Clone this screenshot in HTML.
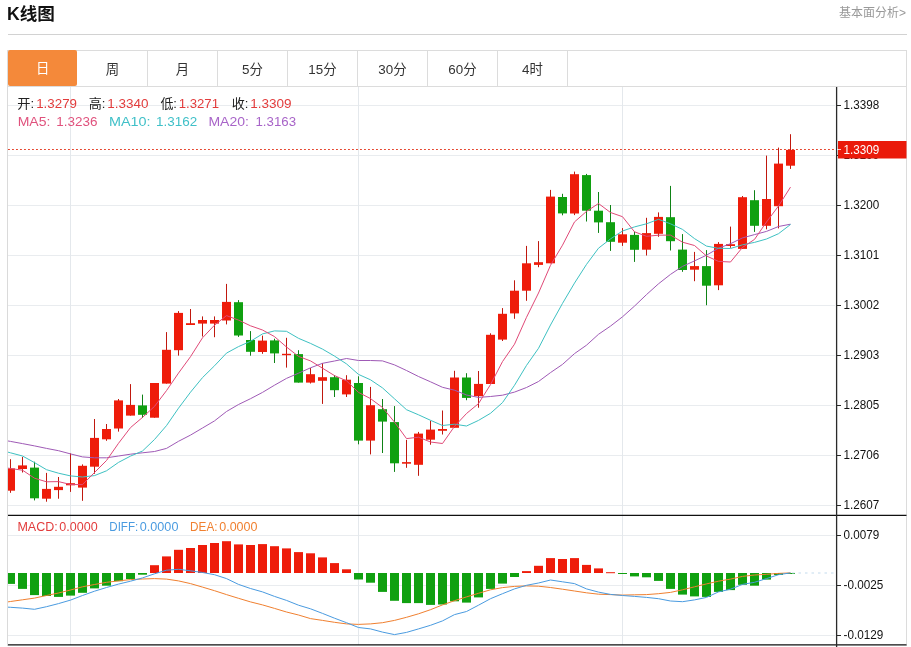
<!DOCTYPE html>
<html lang="zh-CN"><head><meta charset="utf-8"><title>K线图</title>
<style>
html,body{margin:0;padding:0;background:#fff;}
body{width:911px;height:647px;position:relative;overflow:hidden;font-family:"Liberation Sans","Noto Sans CJK SC",sans-serif;color:#333;}
.title{position:absolute;left:7px;top:2.4px;font-size:17.6px;font-weight:bold;color:#111;line-height:24px;white-space:nowrap;}
.more{position:absolute;right:5px;top:5.3px;font-size:12px;color:#999;line-height:17px;white-space:nowrap;}
.hr{position:absolute;left:8px;top:34px;width:899px;height:1px;background:#d2d2d2;}
.tabs{position:absolute;left:7px;top:50px;width:898px;height:35px;border:1px solid #dcdcdc;box-sizing:content-box;}
.tab{position:absolute;top:0;width:69px;height:35px;border-right:1px solid #dcdcdc;text-align:center;line-height:37.4px;font-size:13.4px;color:#333;}
.tab.on{background:#f4893a;color:#fff;border-right-color:#f4893a;border-radius:2px;left:0;top:-0.7px;height:35.2px;width:69.3px;border-right:0}
.ax{font-family:"Liberation Sans",sans-serif;font-size:12.4px;fill:#111;}
.inf{font-family:"Liberation Sans","Noto Sans CJK SC",sans-serif;font-size:13px;}
.r{color:#e23c3c}
</style></head><body>
<div class="title">K线图</div>
<div class="more">基本面分析&gt;</div>
<div class="hr"></div>
<div class="tabs"><div class="tab on" style="left:0px">日</div><div class="tab" style="left:70px">周</div><div class="tab" style="left:140px">月</div><div class="tab" style="left:210px">5分</div><div class="tab" style="left:280px">15分</div><div class="tab" style="left:350px">30分</div><div class="tab" style="left:420px">60分</div><div class="tab" style="left:490px">4时</div></div>
<svg width="911" height="647" viewBox="0 0 911 647" style="position:absolute;left:0;top:0">
<defs><clipPath id="cp"><rect x="8" y="87" width="828" height="559"/></clipPath></defs>
<path d="M8 105.5H835M8 155.5H835M8 205.5H835M8 255.5H835M8 305.5H835M8 355.5H835M8 405.5H835M8 455.5H835M8 505.5H835M8 535.5H835M8 585.5H835M8 635.5H835" stroke="#e9ecef" stroke-width="1" fill="none"/>
<path d="M70.5 87V645M358.5 87V645M622.5 87V645" stroke="#e4e8ec" stroke-width="1" fill="none"/>
<path d="M7.5 87V646" stroke="#dadada" stroke-width="1" fill="none"/>
<path d="M906.5 87V646" stroke="#dcdcdc" stroke-width="1" fill="none"/>
<g clip-path="url(#cp)">
<rect x="10.0" y="459.2" width="1" height="33.6" fill="#c0180e"/>
<rect x="6.0" y="468.4" width="9" height="22.3" fill="#ee1c0a"/>
<rect x="22.0" y="456.9" width="1" height="15.6" fill="#c0180e"/>
<rect x="18.0" y="465.4" width="9" height="3.6" fill="#ee1c0a"/>
<rect x="34.0" y="461.7" width="1" height="38.7" fill="#0f8216"/>
<rect x="30.0" y="467.6" width="9" height="30.7" fill="#10a010"/>
<rect x="46.0" y="472.9" width="1" height="28.8" fill="#c0180e"/>
<rect x="42.0" y="488.9" width="9" height="9.8" fill="#ee1c0a"/>
<rect x="58.0" y="477.0" width="1" height="21.7" fill="#c0180e"/>
<rect x="54.0" y="486.8" width="9" height="3.3" fill="#ee1c0a"/>
<rect x="70.0" y="453.3" width="1" height="38.6" fill="#c0180e"/>
<rect x="66.0" y="483.2" width="9" height="2.1" fill="#ee1c0a"/>
<rect x="82.0" y="464.4" width="1" height="36.4" fill="#c0180e"/>
<rect x="78.0" y="465.8" width="9" height="21.8" fill="#ee1c0a"/>
<rect x="94.0" y="419.0" width="1" height="54.8" fill="#c0180e"/>
<rect x="90.0" y="437.9" width="9" height="28.8" fill="#ee1c0a"/>
<rect x="106.0" y="424.0" width="1" height="16.8" fill="#c0180e"/>
<rect x="102.0" y="429.0" width="9" height="10.3" fill="#ee1c0a"/>
<rect x="118.0" y="399.0" width="1" height="32.6" fill="#c0180e"/>
<rect x="114.0" y="400.4" width="9" height="28.1" fill="#ee1c0a"/>
<rect x="130.0" y="384.1" width="1" height="31.5" fill="#c0180e"/>
<rect x="126.0" y="404.9" width="9" height="10.7" fill="#ee1c0a"/>
<rect x="142.0" y="394.6" width="1" height="23.4" fill="#0f8216"/>
<rect x="138.0" y="405.4" width="9" height="9.4" fill="#10a010"/>
<rect x="154.0" y="383.0" width="1" height="34.7" fill="#c0180e"/>
<rect x="150.0" y="383.0" width="9" height="34.7" fill="#ee1c0a"/>
<rect x="166.0" y="332.1" width="1" height="51.5" fill="#c0180e"/>
<rect x="162.0" y="349.8" width="9" height="33.8" fill="#ee1c0a"/>
<rect x="178.0" y="311.1" width="1" height="44.5" fill="#c0180e"/>
<rect x="174.0" y="312.9" width="9" height="37.3" fill="#ee1c0a"/>
<rect x="190.0" y="309.0" width="1" height="16.0" fill="#c0180e"/>
<rect x="186.0" y="323.2" width="9" height="1.8" fill="#ee1c0a"/>
<rect x="202.0" y="316.4" width="1" height="20.1" fill="#c0180e"/>
<rect x="198.0" y="320.0" width="9" height="3.6" fill="#ee1c0a"/>
<rect x="214.0" y="316.4" width="1" height="20.8" fill="#c0180e"/>
<rect x="210.0" y="320.0" width="9" height="3.6" fill="#ee1c0a"/>
<rect x="226.0" y="283.9" width="1" height="40.5" fill="#c0180e"/>
<rect x="222.0" y="301.9" width="9" height="18.6" fill="#ee1c0a"/>
<rect x="238.0" y="300.1" width="1" height="36.8" fill="#0f8216"/>
<rect x="234.0" y="302.2" width="9" height="33.3" fill="#10a010"/>
<rect x="250.0" y="331.1" width="1" height="24.6" fill="#0f8216"/>
<rect x="246.0" y="340.0" width="9" height="11.8" fill="#10a010"/>
<rect x="262.0" y="335.6" width="1" height="18.2" fill="#c0180e"/>
<rect x="258.0" y="340.6" width="9" height="11.4" fill="#ee1c0a"/>
<rect x="274.0" y="338.7" width="1" height="24.3" fill="#0f8216"/>
<rect x="270.0" y="340.4" width="9" height="13.0" fill="#10a010"/>
<rect x="286.0" y="337.8" width="1" height="29.8" fill="#c0180e"/>
<rect x="282.0" y="353.8" width="9" height="1.4" fill="#ee1c0a"/>
<rect x="298.0" y="350.2" width="1" height="32.4" fill="#0f8216"/>
<rect x="294.0" y="354.1" width="9" height="28.5" fill="#10a010"/>
<rect x="310.0" y="368.0" width="1" height="15.5" fill="#c0180e"/>
<rect x="306.0" y="374.2" width="9" height="8.4" fill="#ee1c0a"/>
<rect x="322.0" y="363.2" width="1" height="40.7" fill="#c0180e"/>
<rect x="318.0" y="377.2" width="9" height="3.6" fill="#ee1c0a"/>
<rect x="334.0" y="375.1" width="1" height="21.9" fill="#0f8216"/>
<rect x="330.0" y="377.2" width="9" height="13.0" fill="#10a010"/>
<rect x="346.0" y="375.2" width="1" height="21.8" fill="#c0180e"/>
<rect x="342.0" y="379.7" width="9" height="14.7" fill="#ee1c0a"/>
<rect x="358.0" y="376.3" width="1" height="68.0" fill="#0f8216"/>
<rect x="354.0" y="383.0" width="9" height="57.6" fill="#10a010"/>
<rect x="370.0" y="386.9" width="1" height="67.5" fill="#c0180e"/>
<rect x="366.0" y="405.2" width="9" height="35.4" fill="#ee1c0a"/>
<rect x="382.0" y="399.0" width="1" height="54.0" fill="#0f8216"/>
<rect x="378.0" y="409.2" width="9" height="12.4" fill="#10a010"/>
<rect x="394.0" y="406.1" width="1" height="65.8" fill="#0f8216"/>
<rect x="390.0" y="422.1" width="9" height="41.2" fill="#10a010"/>
<rect x="406.0" y="439.9" width="1" height="27.9" fill="#c0180e"/>
<rect x="402.0" y="462.1" width="9" height="1.6" fill="#ee1c0a"/>
<rect x="418.0" y="431.9" width="1" height="43.9" fill="#c0180e"/>
<rect x="414.0" y="433.6" width="9" height="31.2" fill="#ee1c0a"/>
<rect x="430.0" y="420.7" width="1" height="24.0" fill="#c0180e"/>
<rect x="426.0" y="429.6" width="9" height="10.1" fill="#ee1c0a"/>
<rect x="442.0" y="410.5" width="1" height="24.0" fill="#c0180e"/>
<rect x="438.0" y="429.0" width="9" height="1.8" fill="#ee1c0a"/>
<rect x="454.0" y="370.8" width="1" height="57.0" fill="#c0180e"/>
<rect x="450.0" y="377.5" width="9" height="50.3" fill="#ee1c0a"/>
<rect x="466.0" y="373.2" width="1" height="27.0" fill="#0f8216"/>
<rect x="462.0" y="377.5" width="9" height="20.4" fill="#10a010"/>
<rect x="478.0" y="371.0" width="1" height="36.7" fill="#c0180e"/>
<rect x="474.0" y="383.9" width="9" height="12.2" fill="#ee1c0a"/>
<rect x="490.0" y="333.3" width="1" height="50.7" fill="#c0180e"/>
<rect x="486.0" y="334.8" width="9" height="49.2" fill="#ee1c0a"/>
<rect x="502.0" y="308.1" width="1" height="32.9" fill="#c0180e"/>
<rect x="498.0" y="313.8" width="9" height="25.8" fill="#ee1c0a"/>
<rect x="514.0" y="280.3" width="1" height="38.5" fill="#c0180e"/>
<rect x="510.0" y="290.7" width="9" height="22.7" fill="#ee1c0a"/>
<rect x="526.0" y="245.9" width="1" height="54.9" fill="#c0180e"/>
<rect x="522.0" y="263.3" width="9" height="27.4" fill="#ee1c0a"/>
<rect x="538.0" y="241.1" width="1" height="26.1" fill="#c0180e"/>
<rect x="534.0" y="262.2" width="9" height="2.7" fill="#ee1c0a"/>
<rect x="550.0" y="189.9" width="1" height="73.4" fill="#c0180e"/>
<rect x="546.0" y="196.6" width="9" height="66.7" fill="#ee1c0a"/>
<rect x="562.0" y="193.8" width="1" height="21.5" fill="#0f8216"/>
<rect x="558.0" y="197.0" width="9" height="16.4" fill="#10a010"/>
<rect x="574.0" y="171.6" width="1" height="43.5" fill="#c0180e"/>
<rect x="570.0" y="174.2" width="9" height="39.3" fill="#ee1c0a"/>
<rect x="586.0" y="173.9" width="1" height="47.6" fill="#0f8216"/>
<rect x="582.0" y="175.1" width="9" height="35.6" fill="#10a010"/>
<rect x="598.0" y="192.0" width="1" height="40.9" fill="#0f8216"/>
<rect x="594.0" y="210.7" width="9" height="11.7" fill="#10a010"/>
<rect x="610.0" y="205.0" width="1" height="45.9" fill="#0f8216"/>
<rect x="606.0" y="222.2" width="9" height="19.6" fill="#10a010"/>
<rect x="622.0" y="228.1" width="1" height="17.8" fill="#c0180e"/>
<rect x="618.0" y="234.3" width="9" height="8.4" fill="#ee1c0a"/>
<rect x="634.0" y="231.7" width="1" height="30.2" fill="#0f8216"/>
<rect x="630.0" y="234.9" width="9" height="14.9" fill="#10a010"/>
<rect x="646.0" y="217.8" width="1" height="37.7" fill="#c0180e"/>
<rect x="642.0" y="233.1" width="9" height="16.6" fill="#ee1c0a"/>
<rect x="658.0" y="212.4" width="1" height="24.4" fill="#c0180e"/>
<rect x="654.0" y="216.9" width="9" height="16.9" fill="#ee1c0a"/>
<rect x="670.0" y="185.9" width="1" height="64.6" fill="#0f8216"/>
<rect x="666.0" y="217.2" width="9" height="24.0" fill="#10a010"/>
<rect x="682.0" y="234.1" width="1" height="37.7" fill="#0f8216"/>
<rect x="678.0" y="249.6" width="9" height="20.4" fill="#10a010"/>
<rect x="694.0" y="251.9" width="1" height="29.3" fill="#c0180e"/>
<rect x="690.0" y="266.1" width="9" height="3.6" fill="#ee1c0a"/>
<rect x="706.0" y="250.1" width="1" height="55.1" fill="#0f8216"/>
<rect x="702.0" y="266.1" width="9" height="19.6" fill="#10a010"/>
<rect x="718.0" y="242.1" width="1" height="48.0" fill="#c0180e"/>
<rect x="714.0" y="243.9" width="9" height="41.4" fill="#ee1c0a"/>
<rect x="730.0" y="226.6" width="1" height="21.2" fill="#c0180e"/>
<rect x="726.0" y="244.2" width="9" height="1.8" fill="#ee1c0a"/>
<rect x="742.0" y="196.0" width="1" height="52.9" fill="#c0180e"/>
<rect x="738.0" y="197.2" width="9" height="51.7" fill="#ee1c0a"/>
<rect x="754.0" y="190.2" width="1" height="41.7" fill="#0f8216"/>
<rect x="750.0" y="200.2" width="9" height="25.6" fill="#10a010"/>
<rect x="766.0" y="155.6" width="1" height="73.7" fill="#c0180e"/>
<rect x="762.0" y="199.0" width="9" height="26.8" fill="#ee1c0a"/>
<rect x="778.0" y="147.6" width="1" height="80.8" fill="#c0180e"/>
<rect x="774.0" y="163.6" width="9" height="42.6" fill="#ee1c0a"/>
<rect x="790.0" y="134.2" width="1" height="34.7" fill="#c0180e"/>
<rect x="786.0" y="149.9" width="9" height="15.8" fill="#ee1c0a"/>
<polyline points="7,440.8 10.5,441.4 22.5,443.6 34.5,445.9 46.5,448.4 58.5,450.7 70.5,453.9 82.5,456.9 94.5,457.8 106.5,457.8 118.5,456.0 130.5,454.2 142.5,452.8 154.5,451.5 166.5,448.4 178.5,441.3 190.5,435.1 202.5,428.0 214.5,420.9 226.5,411.5 238.5,404.5 250.5,398.7 262.5,392.4 274.5,385.2 286.5,378.4 298.5,373.2 310.5,367.8 322.5,363.3 334.5,361.0 346.5,358.5 358.5,360.5 370.5,360.5 382.5,360.9 394.5,364.9 406.5,370.5 418.5,376.5 430.5,381.8 442.5,387.3 454.5,390.2 466.5,395.0 478.5,397.4 490.5,396.5 502.5,395.2 514.5,392.1 526.5,387.5 538.5,381.5 550.5,372.6 562.5,364.4 574.5,353.6 586.5,345.2 598.5,334.3 610.5,326.1 622.5,316.8 634.5,306.1 646.5,294.6 658.5,283.8 670.5,274.4 682.5,266.4 694.5,260.9 706.5,255.2 718.5,248.2 730.5,243.7 742.5,237.9 754.5,234.6 766.5,231.4 778.5,226.5 790.5,224.2" fill="none" stroke="#9f5ab6" stroke-width="1.0" stroke-linejoin="round" opacity="1"/>
<polyline points="7,451.9 10.5,452.8 22.5,456.0 34.5,462.6 46.5,469.7 58.5,473.2 70.5,475.9 82.5,477.0 94.5,475.6 106.5,470.8 118.5,462.4 130.5,456.1 142.5,451.0 154.5,439.5 166.5,425.6 178.5,408.2 190.5,392.2 202.5,377.6 214.5,365.8 226.5,353.1 238.5,346.6 250.5,341.3 262.5,333.9 274.5,330.9 286.5,331.3 298.5,338.3 310.5,343.4 322.5,349.1 334.5,356.1 346.5,363.9 358.5,374.4 370.5,379.8 382.5,387.9 394.5,398.8 406.5,409.7 418.5,414.8 430.5,420.3 442.5,425.5 454.5,424.2 466.5,426.0 478.5,420.4 490.5,413.3 502.5,402.6 514.5,385.3 526.5,365.4 538.5,348.3 550.5,325.0 562.5,303.4 574.5,283.1 586.5,264.4 598.5,248.2 610.5,238.9 622.5,231.0 634.5,226.9 646.5,223.8 658.5,219.3 670.5,223.8 682.5,229.4 694.5,238.6 706.5,246.1 718.5,248.3 730.5,248.5 742.5,244.8 754.5,242.4 766.5,239.0 778.5,233.7 790.5,224.5" fill="none" stroke="#3ec1c2" stroke-width="1.0" stroke-linejoin="round" opacity="1"/>
<polyline points="7,468.0 10.5,468.5 22.5,470.2 34.5,478.2 46.5,481.8 58.5,481.6 70.5,484.5 82.5,484.6 94.5,472.5 106.5,460.5 118.5,443.3 130.5,427.6 142.5,417.4 154.5,406.4 166.5,390.6 178.5,373.1 190.5,356.7 202.5,337.8 214.5,325.2 226.5,315.6 238.5,320.1 250.5,325.8 262.5,330.0 274.5,336.6 286.5,347.0 298.5,356.4 310.5,360.9 322.5,368.2 334.5,375.6 346.5,380.8 358.5,392.4 370.5,398.6 382.5,407.5 394.5,422.1 406.5,438.6 418.5,437.2 430.5,442.0 442.5,443.5 454.5,426.4 466.5,413.5 478.5,403.6 490.5,384.6 502.5,361.6 514.5,344.2 526.5,317.3 538.5,293.0 550.5,265.3 562.5,245.2 574.5,221.9 586.5,211.4 598.5,203.5 610.5,212.5 622.5,216.7 634.5,231.8 646.5,236.3 658.5,235.2 670.5,235.1 682.5,242.2 694.5,245.5 706.5,256.0 718.5,261.4 730.5,262.0 742.5,247.4 754.5,239.4 766.5,222.0 778.5,206.0 790.5,187.1" fill="none" stroke="#e04a78" stroke-width="1.0" stroke-linejoin="round" opacity="1"/>
<rect x="6.0" y="573.0" width="9" height="10.9" fill="#10a010"/>
<rect x="18.0" y="573.0" width="9" height="15.9" fill="#10a010"/>
<rect x="30.0" y="573.0" width="9" height="22.1" fill="#10a010"/>
<rect x="42.0" y="573.0" width="9" height="23.0" fill="#10a010"/>
<rect x="54.0" y="573.0" width="9" height="23.9" fill="#10a010"/>
<rect x="66.0" y="573.0" width="9" height="22.6" fill="#10a010"/>
<rect x="78.0" y="573.0" width="9" height="19.8" fill="#10a010"/>
<rect x="90.0" y="573.0" width="9" height="15.4" fill="#10a010"/>
<rect x="102.0" y="573.0" width="9" height="12.7" fill="#10a010"/>
<rect x="114.0" y="573.0" width="9" height="8.2" fill="#10a010"/>
<rect x="126.0" y="573.0" width="9" height="6.1" fill="#10a010"/>
<rect x="138.0" y="573.0" width="9" height="1.7" fill="#10a010"/>
<rect x="150.0" y="565.2" width="9" height="7.8" fill="#ee1c0a"/>
<rect x="162.0" y="556.4" width="9" height="16.6" fill="#ee1c0a"/>
<rect x="174.0" y="549.8" width="9" height="23.2" fill="#ee1c0a"/>
<rect x="186.0" y="548.0" width="9" height="25.0" fill="#ee1c0a"/>
<rect x="198.0" y="545.0" width="9" height="28.0" fill="#ee1c0a"/>
<rect x="210.0" y="543.0" width="9" height="30.0" fill="#ee1c0a"/>
<rect x="222.0" y="541.2" width="9" height="31.8" fill="#ee1c0a"/>
<rect x="234.0" y="544.4" width="9" height="28.6" fill="#ee1c0a"/>
<rect x="246.0" y="545.0" width="9" height="28.0" fill="#ee1c0a"/>
<rect x="258.0" y="544.1" width="9" height="28.9" fill="#ee1c0a"/>
<rect x="270.0" y="546.2" width="9" height="26.8" fill="#ee1c0a"/>
<rect x="282.0" y="548.4" width="9" height="24.6" fill="#ee1c0a"/>
<rect x="294.0" y="552.1" width="9" height="20.9" fill="#ee1c0a"/>
<rect x="306.0" y="553.3" width="9" height="19.7" fill="#ee1c0a"/>
<rect x="318.0" y="557.4" width="9" height="15.6" fill="#ee1c0a"/>
<rect x="330.0" y="563.1" width="9" height="9.9" fill="#ee1c0a"/>
<rect x="342.0" y="569.3" width="9" height="3.7" fill="#ee1c0a"/>
<rect x="354.0" y="573.0" width="9" height="6.5" fill="#10a010"/>
<rect x="366.0" y="573.0" width="9" height="9.7" fill="#10a010"/>
<rect x="378.0" y="573.0" width="9" height="18.9" fill="#10a010"/>
<rect x="390.0" y="573.0" width="9" height="27.8" fill="#10a010"/>
<rect x="402.0" y="573.0" width="9" height="30.1" fill="#10a010"/>
<rect x="414.0" y="573.0" width="9" height="30.1" fill="#10a010"/>
<rect x="426.0" y="573.0" width="9" height="31.9" fill="#10a010"/>
<rect x="438.0" y="573.0" width="9" height="31.5" fill="#10a010"/>
<rect x="450.0" y="573.0" width="9" height="28.3" fill="#10a010"/>
<rect x="462.0" y="573.0" width="9" height="29.6" fill="#10a010"/>
<rect x="474.0" y="573.0" width="9" height="24.4" fill="#10a010"/>
<rect x="486.0" y="573.0" width="9" height="15.9" fill="#10a010"/>
<rect x="498.0" y="573.0" width="9" height="10.6" fill="#10a010"/>
<rect x="510.0" y="573.0" width="9" height="4.0" fill="#10a010"/>
<rect x="522.0" y="571.1" width="9" height="1.9" fill="#ee1c0a"/>
<rect x="534.0" y="565.8" width="9" height="7.2" fill="#ee1c0a"/>
<rect x="546.0" y="558.1" width="9" height="14.9" fill="#ee1c0a"/>
<rect x="558.0" y="559.0" width="9" height="14.0" fill="#ee1c0a"/>
<rect x="570.0" y="558.1" width="9" height="14.9" fill="#ee1c0a"/>
<rect x="582.0" y="564.9" width="9" height="8.1" fill="#ee1c0a"/>
<rect x="594.0" y="568.4" width="9" height="4.6" fill="#ee1c0a"/>
<rect x="606.0" y="572.2" width="9" height="1.0" fill="#ee1c0a"/>
<rect x="618.0" y="573.0" width="9" height="1.0" fill="#10a010"/>
<rect x="630.0" y="573.0" width="9" height="3.4" fill="#10a010"/>
<rect x="642.0" y="573.0" width="9" height="4.3" fill="#10a010"/>
<rect x="654.0" y="573.0" width="9" height="7.9" fill="#10a010"/>
<rect x="666.0" y="573.0" width="9" height="15.9" fill="#10a010"/>
<rect x="678.0" y="573.0" width="9" height="21.6" fill="#10a010"/>
<rect x="690.0" y="573.0" width="9" height="23.4" fill="#10a010"/>
<rect x="702.0" y="573.0" width="9" height="23.9" fill="#10a010"/>
<rect x="714.0" y="573.0" width="9" height="18.9" fill="#10a010"/>
<rect x="726.0" y="573.0" width="9" height="17.1" fill="#10a010"/>
<rect x="738.0" y="573.0" width="9" height="11.8" fill="#10a010"/>
<rect x="750.0" y="573.0" width="9" height="12.7" fill="#10a010"/>
<rect x="762.0" y="573.0" width="9" height="6.6" fill="#10a010"/>
<rect x="774.0" y="573.0" width="9" height="2.0" fill="#10a010"/>
<rect x="786.0" y="573.0" width="9" height="1.0" fill="#10a010"/>
<polyline points="7,602.0 10.5,601.5 22.5,599.8 34.5,598.1 46.5,595.5 58.5,593.0 70.5,590.0 82.5,586.8 94.5,584.5 106.5,582.3 118.5,580.9 130.5,579.6 142.5,579.0 154.5,578.6 166.5,579.1 178.5,580.9 190.5,583.6 202.5,587.1 214.5,590.7 226.5,594.6 238.5,598.3 250.5,601.9 262.5,604.9 274.5,608.4 286.5,612.0 298.5,615.0 310.5,618.6 322.5,620.4 334.5,622.3 346.5,623.9 358.5,624.4 370.5,623.9 382.5,622.7 394.5,620.4 406.5,617.3 418.5,613.8 430.5,609.7 442.5,604.9 454.5,600.7 466.5,596.9 478.5,593.3 490.5,589.8 502.5,587.6 514.5,586.4 526.5,585.9 538.5,586.2 550.5,587.5 562.5,589.2 574.5,591.0 586.5,592.8 598.5,594.2 610.5,594.6 622.5,595.1 634.5,594.8 646.5,594.6 658.5,593.7 670.5,592.4 682.5,589.8 694.5,586.8 706.5,583.9 718.5,581.2 730.5,579.1 742.5,576.4 754.5,575.0 766.5,574.3 778.5,573.4 790.5,572.9" fill="none" stroke="#f08030" stroke-width="1.0" stroke-linejoin="round" opacity="1"/>
<polyline points="7,607.1 10.5,607.3 22.5,608.1 34.5,609.3 46.5,606.7 58.5,603.6 70.5,600.1 82.5,595.5 94.5,591.2 106.5,587.5 118.5,584.1 130.5,581.2 142.5,577.9 154.5,573.8 166.5,570.2 178.5,569.3 190.5,570.8 202.5,572.5 214.5,574.7 226.5,578.6 238.5,584.4 250.5,588.5 262.5,591.9 274.5,596.4 286.5,600.4 298.5,605.2 310.5,608.8 322.5,613.4 334.5,618.2 346.5,622.7 358.5,627.5 370.5,628.9 382.5,632.1 394.5,634.6 406.5,632.4 418.5,628.9 430.5,625.3 442.5,620.9 454.5,614.6 466.5,611.5 478.5,605.2 490.5,598.7 502.5,593.7 514.5,588.9 526.5,585.3 538.5,583.0 550.5,580.0 562.5,581.8 574.5,583.6 586.5,588.9 598.5,592.1 610.5,594.4 622.5,595.5 634.5,596.4 646.5,597.4 658.5,598.7 670.5,601.0 682.5,601.7 694.5,599.9 706.5,597.4 718.5,591.9 730.5,589.2 742.5,584.4 754.5,582.3 766.5,578.6 778.5,574.7 790.5,572.9" fill="none" stroke="#4a9be0" stroke-width="1.0" stroke-linejoin="round" opacity="1"/>
</g>
<path d="M8 149.5H836" stroke="#e6452e" stroke-width="1.2" stroke-dasharray="1.9 2.1" fill="none"/>
<path d="M792 573H834" stroke="#c4dcee" stroke-width="1.1" stroke-dasharray="2.5 4" fill="none"/>
<path d="M8 515.4H906.5" stroke="#111" stroke-width="1.3" fill="none"/>
<path d="M8 644.9H906.5" stroke="#111" stroke-width="1.3" fill="none"/>
<path d="M836.6 87V647" stroke="#2a2a2a" stroke-width="1.3" fill="none"/>
<path d="M837 105.5H841M837 155.5H841M837 205.5H841M837 255.5H841M837 305.5H841M837 355.5H841M837 405.5H841M837 455.5H841M837 505.5H841M837 535.5H841M837 585.5H841M837 635.5H841" stroke="#2a2a2a" stroke-width="1" fill="none"/>
<text x="843.5" y="109.4" class="ax" textLength="35.7" lengthAdjust="spacingAndGlyphs">1.3398</text>
<text x="843.5" y="159.4" class="ax" textLength="35.7" lengthAdjust="spacingAndGlyphs">1.3299</text>
<text x="843.5" y="209.4" class="ax" textLength="35.7" lengthAdjust="spacingAndGlyphs">1.3200</text>
<text x="843.5" y="259.4" class="ax" textLength="35.7" lengthAdjust="spacingAndGlyphs">1.3101</text>
<text x="843.5" y="309.4" class="ax" textLength="35.7" lengthAdjust="spacingAndGlyphs">1.3002</text>
<text x="843.5" y="359.4" class="ax" textLength="35.7" lengthAdjust="spacingAndGlyphs">1.2903</text>
<text x="843.5" y="409.4" class="ax" textLength="35.7" lengthAdjust="spacingAndGlyphs">1.2805</text>
<text x="843.5" y="459.4" class="ax" textLength="35.7" lengthAdjust="spacingAndGlyphs">1.2706</text>
<text x="843.5" y="509.4" class="ax" textLength="35.7" lengthAdjust="spacingAndGlyphs">1.2607</text>
<text x="843.5" y="539.4" class="ax" textLength="35.7" lengthAdjust="spacingAndGlyphs">0.0079</text>
<text x="843.5" y="589.4" class="ax" textLength="39.8" lengthAdjust="spacingAndGlyphs">-0.0025</text>
<text x="843.5" y="639.4" class="ax" textLength="39.8" lengthAdjust="spacingAndGlyphs">-0.0129</text>
<rect x="838" y="141" width="68.5" height="17.5" fill="#ea1a0a"/>
<path d="M837 149.5H841" stroke="#fff" stroke-width="1" fill="none" opacity="0.8"/>
<text x="843.5" y="154.1" class="ax" textLength="35.7" lengthAdjust="spacingAndGlyphs" style="fill:#fff">1.3309</text>
<text x="17.2" y="107.6" textLength="16.9" lengthAdjust="spacingAndGlyphs" class="inf" style="fill:#222">开:</text>
<text x="36.2" y="107.6" textLength="40.8" lengthAdjust="spacingAndGlyphs" class="inf" style="fill:#e23c3c">1.3279</text>
<text x="88.8" y="107.6" textLength="16.7" lengthAdjust="spacingAndGlyphs" class="inf" style="fill:#222">高:</text>
<text x="107.3" y="107.6" textLength="41.2" lengthAdjust="spacingAndGlyphs" class="inf" style="fill:#e23c3c">1.3340</text>
<text x="160.4" y="107.6" textLength="16.6" lengthAdjust="spacingAndGlyphs" class="inf" style="fill:#222">低:</text>
<text x="178.7" y="107.6" textLength="40.3" lengthAdjust="spacingAndGlyphs" class="inf" style="fill:#e23c3c">1.3271</text>
<text x="231.7" y="107.6" textLength="16.7" lengthAdjust="spacingAndGlyphs" class="inf" style="fill:#222">收:</text>
<text x="250.2" y="107.6" textLength="41.4" lengthAdjust="spacingAndGlyphs" class="inf" style="fill:#e23c3c">1.3309</text>
<text x="17.7" y="125.9" textLength="32.7" lengthAdjust="spacingAndGlyphs" class="inf" style="fill:#e0527d">MA5:</text>
<text x="56.3" y="125.9" textLength="41.2" lengthAdjust="spacingAndGlyphs" class="inf" style="fill:#e0527d">1.3236</text>
<text x="109.0" y="125.9" textLength="41.6" lengthAdjust="spacingAndGlyphs" class="inf" style="fill:#40c0c8">MA10:</text>
<text x="156.0" y="125.9" textLength="41.2" lengthAdjust="spacingAndGlyphs" class="inf" style="fill:#40c0c8">1.3162</text>
<text x="208.4" y="125.9" textLength="40.5" lengthAdjust="spacingAndGlyphs" class="inf" style="fill:#a864c8">MA20:</text>
<text x="255.5" y="125.9" textLength="40.5" lengthAdjust="spacingAndGlyphs" class="inf" style="fill:#a864c8">1.3163</text>
<text x="17.4" y="531.4" textLength="40.3" lengthAdjust="spacingAndGlyphs" class="inf" style="fill:#e23c3c">MACD:</text>
<text x="59.3" y="531.4" textLength="38.3" lengthAdjust="spacingAndGlyphs" class="inf" style="fill:#e23c3c">0.0000</text>
<text x="109.3" y="531.4" textLength="28.9" lengthAdjust="spacingAndGlyphs" class="inf" style="fill:#4a9be0">DIFF:</text>
<text x="139.8" y="531.4" textLength="38.6" lengthAdjust="spacingAndGlyphs" class="inf" style="fill:#4a9be0">0.0000</text>
<text x="190.1" y="531.4" textLength="27.4" lengthAdjust="spacingAndGlyphs" class="inf" style="fill:#f08030">DEA:</text>
<text x="219.2" y="531.4" textLength="38.3" lengthAdjust="spacingAndGlyphs" class="inf" style="fill:#f08030">0.0000</text>
</svg>
</body></html>
